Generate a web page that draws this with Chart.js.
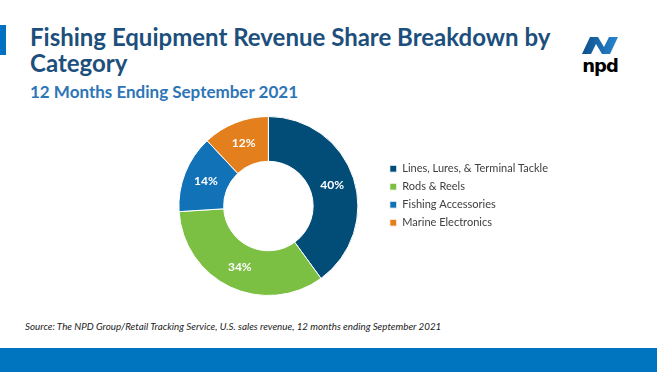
<!DOCTYPE html>
<html>
<head>
<meta charset="utf-8">
<script src="https://cdn.jsdelivr.net/npm/chart.js@4.4.0/dist/chart.umd.min.js"></script>
<style>
  html, body { margin: 0; padding: 0; background: #fff; }
  body { width: 657px; height: 372px; position: relative; overflow: hidden; font-family: Lato, "Open Sans", sans-serif; }
  .accent { position: absolute; left: 0; top: 25px; width: 6px; height: 30px; background: #0070c0; }
  h1 { position: absolute; left: 30px; top: 24px; margin: 0; font-size: 24px; line-height: 26px; font-weight: 700; color: #1d4f7c; width: 540px; }
  h2 { position: absolute; left: 30px; top: 81px; margin: 0; font-size: 17px; font-weight: 700; color: #2e75b6; }
  .source { position: absolute; left: 25px; top: 320px; font-size: 9.8px; font-style: italic; color: #222; }
  .footer { position: absolute; left: 0; top: 348px; width: 657px; height: 24px; background: #0075bf; }
  .logo { position: absolute; left: 578px; top: 34px; }
  #wrap { position: absolute; left: 146px; top: 111px; width: 412px; height: 190px; }
</style>
</head>
<body>
<div class="accent"></div>
<h1>Fishing Equipment Revenue Share Breakdown by Category</h1>
<h2>12 Months Ending September 2021</h2>
<svg class="logo" width="46" height="42" viewBox="0 0 46 42">
  <defs>
    <linearGradient id="g" x1="0" x2="1" y1="0" y2="0">
      <stop offset="0" stop-color="#0d4f8a"/>
      <stop offset="1" stop-color="#2a86d0"/>
    </linearGradient>
  </defs>
  <path d="M4 20 L12 3 L20 3 L26 13 L31 3 L40 3 L32 20 L24 20 L18 10 L13 20 Z" fill="url(#g)"/>
  <text x="22" y="38" text-anchor="middle" font-family="DejaVu Sans, sans-serif" font-weight="700" font-size="18" fill="#000" letter-spacing="-1">npd</text>
</svg>
<div id="wrap"><canvas id="donut"></canvas></div>
<div class="source">Source: The NPD Group/Retail Tracking Service, U.S. sales revenue, 12 months ending September 2021</div>
<div class="footer"></div>
<script>
const categories = ['Lines, Lures, & Terminal Tackle', 'Rods & Reels', 'Fishing Accessories', 'Marine Electronics'];
const shares = [40, 34, 14, 12];
const colors = ['#024c78', '#7bbf43', '#1272b8', '#e3801d'];

// white % labels in the middle of each slice
const sliceLabels = {
  id: 'sliceLabels',
  afterDatasetsDraw(chart) {
    const ctx = chart.ctx;
    const meta = chart.getDatasetMeta(0);
    ctx.save();
    ctx.fillStyle = '#fff';
    ctx.font = 'bold 12px Lato, "Open Sans", sans-serif';
    ctx.textAlign = 'center';
    ctx.textBaseline = 'middle';
    meta.data.forEach((arc, i) => {
      const p = arc.tooltipPosition();
      ctx.fillText(shares[i] + '%', p.x, p.y);
    });
    ctx.restore();
  }
};

new Chart(document.getElementById('donut'), {
  type: 'doughnut',
  data: {
    labels: categories,
    datasets: [{
      data: shares,
      backgroundColor: colors,
      borderColor: '#fff',
      borderWidth: 1
    }]
  },
  options: {
    responsive: true,
    maintainAspectRatio: false,
    animation: false,
    cutout: '50%',
    layout: { padding: { left: 8, right: 0, top: 5, bottom: 5 } },
    plugins: {
      tooltip: { enabled: false },
      legend: {
        position: 'right',
        align: 'start',
        title: { display: true, text: ' ', padding: { top: 27, bottom: 0 }, font: { size: 11 } },
        labels: {
          boxWidth: 7,
          boxHeight: 7,
          padding: 7,
          color: '#404040',
          font: { size: 11, family: 'Lato, "Open Sans", sans-serif' }
        }
      }
    }
  },
  plugins: [sliceLabels]
});
</script>
</body>
</html>
